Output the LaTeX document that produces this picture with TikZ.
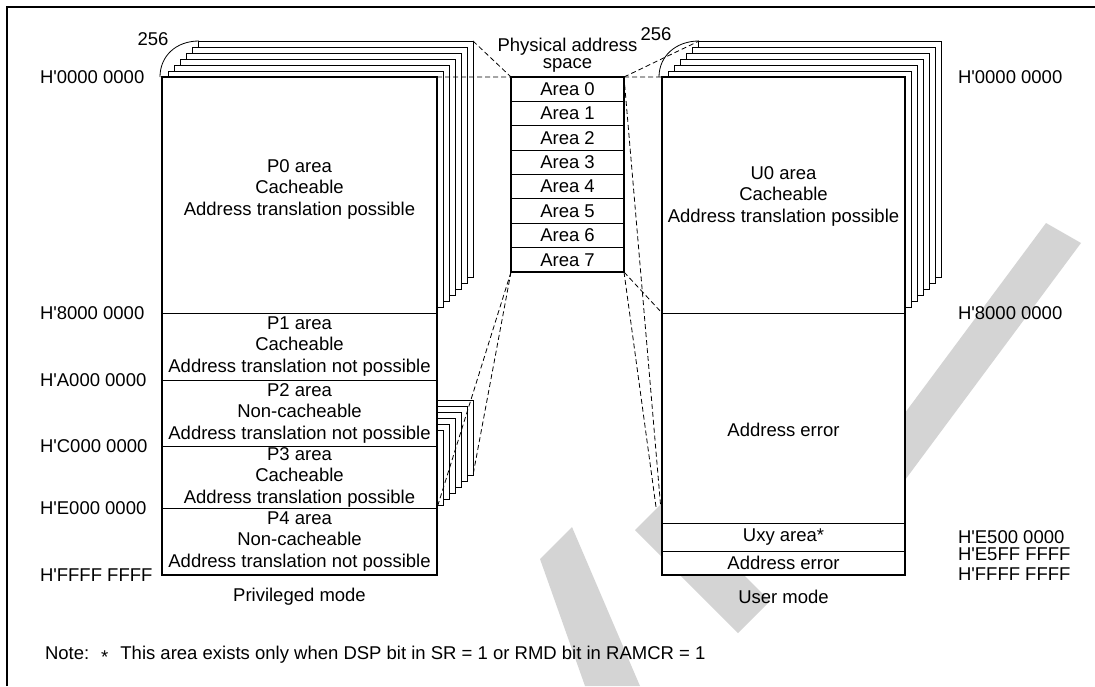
\documentclass[tikz,border=0pt]{standalone}
\usepackage{fontspec}
\setmainfont{Liberation Sans}[Ligatures=TeXOff]
\usetikzlibrary{calc}
\tikzset{
  every node/.style={inner sep=0pt, outer sep=0pt},
  txt/.style={font=\fontsize{18.5}{21.5}\selectfont, align=center},
  adr/.style={txt, anchor=west},
  frameline/.style={line width=1.7pt},
  outer/.style={draw, line width=1.6pt},
  layer/.style={draw, line width=0.8pt, fill=white},
  preg/.style={draw, line width=0.8pt, fill=white, minimum width=275pt},
  ureg/.style={draw, line width=0.8pt, fill=white, minimum width=243pt},
  areg/.style={draw, line width=0.8pt, fill=white, minimum width=113pt, minimum height=24.375pt, txt},
  link/.style={line width=0.8pt, dash pattern=on 5pt off 3pt},
  bracket/.style={line width=0.8pt},
  wmark/.style={fill=black!17, draw=none}
}
\begin{document}
\begin{tikzpicture}[x=1pt,y=-1pt]
\useasboundingbox (0,0) rectangle (1095,686);

% frame
\draw[frameline] (7,686) -- (7,7) -- (1095,7);

% 256-fold stacks behind the translated areas
\foreach \k in {6,5,...,1} {
  \draw[layer] (162+6*\k, 77-6*\k) rectangle (437+6*\k, 313-6*\k);
  \draw[layer] (662+6*\k, 77-6*\k) rectangle (905+6*\k, 313-6*\k);
  \draw[layer] (431, 436-6*\k) rectangle (437+6*\k, 511-6*\k);
}

% physical address space
\foreach \i in {0,...,7} {
  \node[areg] (a\i) at (567.5, 89.19+24.375*\i) {Area \i};
}
\draw[outer] (a0.north west) rectangle (a7.south east);
\coordinate (phnw) at (a0.north west);
\coordinate (phne) at (a0.north east);
\coordinate (phsw) at (a7.south west);
\coordinate (phse) at (a7.south east);
\node[txt, font=\fontsize{18.5}{17}\selectfont] (phys) at (567.5,55.5) {Physical address\\space};

% region anchors used by the mapping lines
\coordinate (p0ne) at (437,77);
\coordinate (p3se) at (437,508);
\coordinate (u0nw) at (662,77);
\coordinate (u0sw) at (662,313);
\coordinate (pstk) at (473,41);
\coordinate (ustk) at (699,41);
\coordinate (p3stk) at (473,475);
\coordinate (uxyt) at (662,522);
\coordinate (uxyb) at (662,551);

% mapping lines
\draw[link] (p0ne) -- (phnw);
\draw[link] (pstk) -- (phnw);
\draw[link] (phsw) -- (p3se);
\draw[link] (phsw) -- (p3stk);
\draw[link] (phne) -- (u0nw);
\draw[link] (phne) -- (ustk);
\draw[link] (phse) -- (u0sw);
\draw[link] (phne) -- (uxyt);
\draw[link] (phse) -- (uxyb);

% background watermark strokes
\fill[wmark] (1046,223) -- (1081,243) -- (905,480) -- (870,460) -- cycle;
\fill[wmark] (635,530) -- (667,498) -- (770,601) -- (738,633) -- cycle;
\fill[wmark] (572,527) -- (640,686) -- (585,686) -- (540,559) -- cycle;

% privileged mode address space
\node[preg, minimum height=236pt] (p0) at (299.5,195) {};
\node[preg, minimum height=67pt]  (p1) at (299.5,346.5) {};
\node[preg, minimum height=66pt]  (p2) at (299.5,413) {};
\node[preg, minimum height=62pt]  (p3) at (299.5,477) {};
\node[preg, minimum height=67pt]  (p4) at (299.5,541.5) {};
\draw[outer] (p0.north west) rectangle (p4.south east);

\node[txt] (p0t) at (299.5,189) {P0 area\\Cacheable\\Address translation possible};
\node[txt] (p1t) at (p1) {P1 area\\Cacheable\\Address translation not possible};
\node[txt] (p2t) at (p2) {P2 area\\Non-cacheable\\Address translation not possible};
\node[txt] (p3t) at (p3) {P3 area\\Cacheable\\Address translation possible};
\node[txt] (p4t) at (p4) {P4 area\\Non-cacheable\\Address translation not possible};
\node[txt] (pm) at (299.5,597) {Privileged mode};

% user mode address space
\node[ureg, minimum height=236pt] (u0) at (783.5,195) {};
\node[ureg, minimum height=210pt] (ue1) at (783.5,418) {};
\node[ureg, minimum height=28pt]  (uxy) at (783.5,537) {};
\node[ureg, minimum height=24pt]  (ue2) at (783.5,563) {};
\draw[outer] (u0.north west) rectangle (ue2.south east);

\node[txt] (u0t) at (783.5,196) {U0 area\\Cacheable\\Address translation possible};
\node[txt] (ue1t) at (783.5,430) {Address error};
\node[txt] (uxyl) at (uxy) {Uxy area*};
\node[txt] (ue2t) at (ue2) {Address error};
\node[txt] (um) at (783.5,597) {User mode};

% address labels
\node[adr] (l0) at (40,77)  {H'0000 0000};
\node[adr] (l8) at (40,313) {H'8000 0000};
\node[adr] (lA) at (40,380) {H'A000 0000};
\node[adr] (lC) at (40,446) {H'C000 0000};
\node[adr] (lE) at (40,508) {H'E000 0000};
\node[adr] (lF) at (40,575) {H'FFFF FFFF};
\node[adr] (r0) at (958,77)  {H'0000 0000};
\node[adr] (r8) at (958,313) {H'8000 0000};
\node[adr] (rE5) at (958,537) {H'E500 0000};
\node[adr] (rE5F) at (958,554) {H'E5FF FFFF};
\node[adr] (rF) at (958,574) {H'FFFF FFFF};

% 256 brackets
\coordinate (pbs) at (160,77);
\coordinate (pbe) at (199,41);
\coordinate (ubs) at (659,77);
\coordinate (ube) at (699,41);
\draw[bracket] (pbs) .. controls (160,56) and (176,41) .. (pbe);
\draw[bracket] (ubs) .. controls (659,56) and (676,41) .. (ube);
\node[txt] (n256l) at (153,39) {256};
\node[txt] (n256r) at (656,34) {256};

% note
\node[txt, anchor=west] (note) at (45,655) {Note:\hspace{12pt}\raisebox{-4pt}{*}\hspace{12pt}This area exists only when DSP bit in SR = 1 or RMD bit in RAMCR = 1};
\end{tikzpicture}
\end{document}
